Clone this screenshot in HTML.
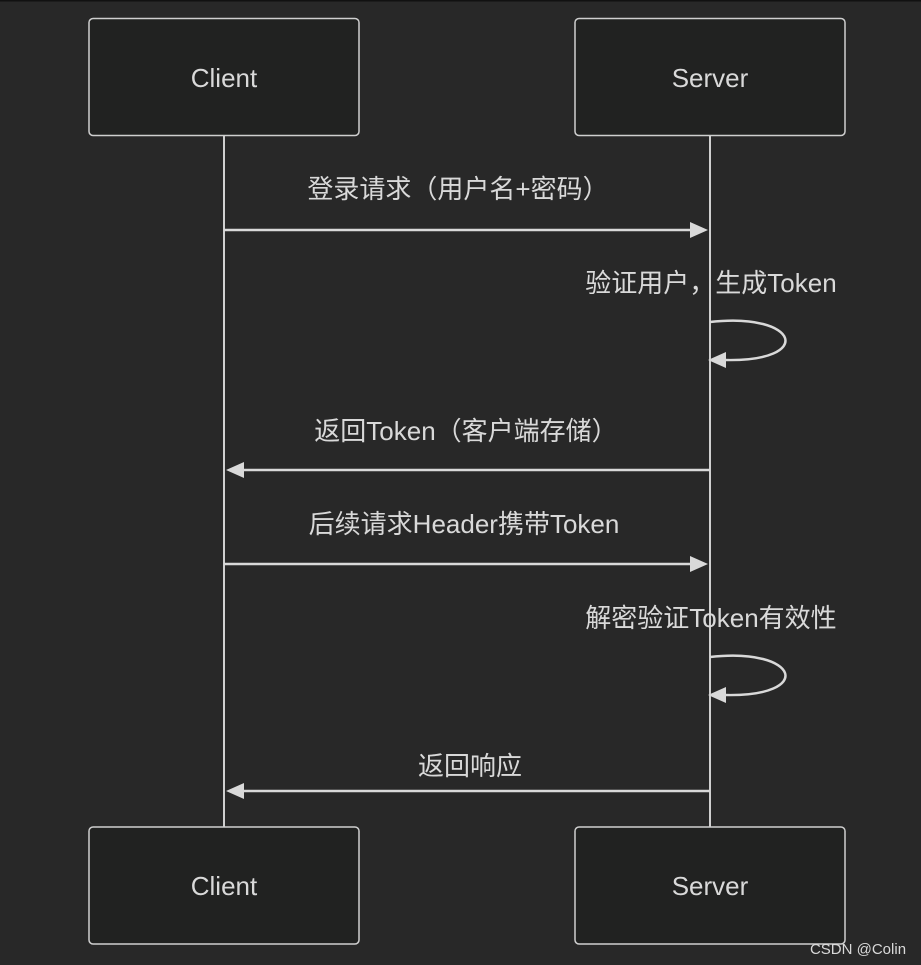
<!DOCTYPE html>
<html><head><meta charset="utf-8"><style>
html,body{margin:0;padding:0;background:#282828;}
svg{display:block;}
text{font-family:"Liberation Sans","Noto Sans CJK SC",sans-serif;fill:#d9d9d9;}
</style></head><body>
<svg width="921" height="965" viewBox="0 0 921 965" xmlns="http://www.w3.org/2000/svg">
<rect x="0" y="0" width="921" height="965" fill="#282828"/>
<rect x="0" y="0" width="921" height="1.5" fill="#111"/>
<g stroke="#cfcfcf" stroke-width="2">
<line x1="224" y1="135" x2="224" y2="827"/>
<line x1="710" y1="135" x2="710" y2="827"/>
</g>
<g fill="#212221" stroke="#cfcfcf" stroke-width="1.5">
<rect x="89" y="18.5" width="270" height="117" rx="4"/>
<rect x="575" y="18.5" width="270" height="117" rx="4"/>
<rect x="89" y="827" width="270" height="117" rx="4"/>
<rect x="575" y="827" width="270" height="117" rx="4"/>
</g>
<g font-size="26" text-anchor="middle">
<text x="224" y="87">Client</text>
<text x="710" y="87">Server</text>
<text x="224" y="895">Client</text>
<text x="710" y="895">Server</text>
</g>
<g font-size="26" text-anchor="middle">
<text x="458" y="198">登录请求（用户名+密码）</text>
<text x="711" y="292">验证用户，生成Token</text>
<text x="466" y="440">返回Token（客户端存储）</text>
<text x="464" y="533">后续请求Header携带Token</text>
<text x="711" y="627">解密验证Token有效性</text>
<text x="470" y="775">返回响应</text>
</g>
<g stroke="#d9d9d9" stroke-width="2.5" fill="none">
<line x1="224" y1="230" x2="692" y2="230"/>
<line x1="242" y1="470" x2="710" y2="470"/>
<line x1="224" y1="564" x2="692" y2="564"/>
<line x1="242" y1="791" x2="710" y2="791"/>
<path d="M710 322 C800 312 815 362 725 360"/>
<path d="M710 657 C800 647 815 697 725 695"/>
</g>
<g fill="#d9d9d9">
<polygon points="708,230 690,222 690,238"/>
<polygon points="226,470 244,462 244,478"/>
<polygon points="708,564 690,556 690,572"/>
<polygon points="226,791 244,783 244,799"/>
<polygon points="708,360 726,352 726,368"/>
<polygon points="708,695 726,687 726,703"/>
</g>
<text x="858" y="954" font-size="15" text-anchor="middle" fill="#e0e0e0">CSDN @Colin</text>
</svg>
</body></html>
